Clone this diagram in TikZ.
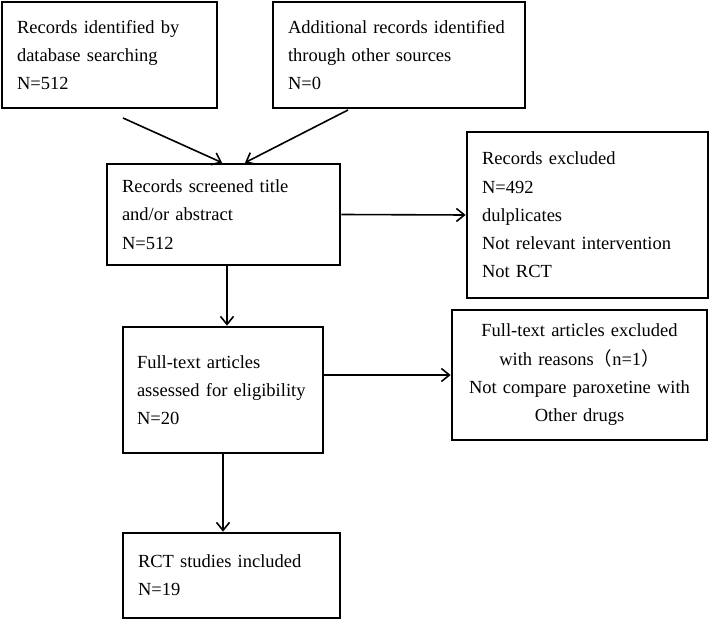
\documentclass[tikz,border=0pt]{standalone}
\usepackage{fontspec}
\setmainfont{Liberation Serif}
\newfontfamily\cjk{Noto Sans CJK SC}
\usetikzlibrary{arrows.meta,calc}

\begin{document}
\begin{tikzpicture}[x = 1pt, y = -1pt,
		box/.style = {draw, line width = 2.7pt, inner sep = 0pt, inner xsep = 15pt, align = left,
			font = \fontsize{18.5}{28.3}\selectfont},
		arr/.style = {line width = 1.6pt, -{Straight Barb[length = 8pt, width = 13pt, line width = 1.6pt]}}]
	\useasboundingbox (0, 0) rectangle (709, 620);
	% identification
	\node[box, minimum width = 215pt, minimum height = 106pt, text width = 185pt] (db) at (109.5, 55)
		{Records identified by\\database searching\\N=512};
	\node[box, minimum width = 252pt, minimum height = 106pt, text width = 222pt] (other) at (399, 55)
		{Additional records identified\\through other sources\\N=0};
	% screening
	\node[box, minimum width = 233pt, minimum height = 101pt, text width = 203pt] (screen) at (223.5, 214.5)
		{Records screened title\\and/or abstract\\N=512};
	\node[box, minimum width = 241pt, minimum height = 166pt, text width = 211pt] (excl) at (587.5, 215)
		{Records excluded\\N=492\\dulplicates\\Not relevant intervention\\Not RCT};
	% eligibility
	\node[box, minimum width = 200pt, minimum height = 126pt, text width = 172pt, inner xsep = 14pt] (full) at (223, 390)
		{Full-text articles\\assessed for eligibility\\N=20};
	\node[box, minimum width = 255pt, minimum height = 130pt, text width = 235pt, inner xsep = 10pt, align = center] (fullexcl) at (579.5, 375)
		{Full-text articles excluded\\with reasons{\cjk （}n=1{\cjk ）}\\Not compare paroxetine with\\Other drugs};
	% included
	\node[box, minimum width = 217pt, minimum height = 85pt, text width = 187pt] (rct) at (231.5, 575.5)
		{RCT studies included\\N=19\\[4pt]};
	% arrows
	\coordinate (dbout) at (123, 118);
	\coordinate (otherout) at (348, 110);
	\draw[arr] (dbout) -- ($(screen.north) + (-1.5, 0)$);
	\draw[arr] (otherout) -- ($(screen.north) + (21.5, 0)$);
	\coordinate (screenout) at ($(screen.south) + (3.5, 0)$);
	\draw[arr] (screenout) -- (screenout |- full.north);
	\draw[arr] (screen.east) -- (excl.west);
	\draw[arr] (full.east |- fullexcl.west) -- (fullexcl.west);
	\draw[arr] (full.south) -- (full.south |- rct.north);
\end{tikzpicture}
\end{document}
